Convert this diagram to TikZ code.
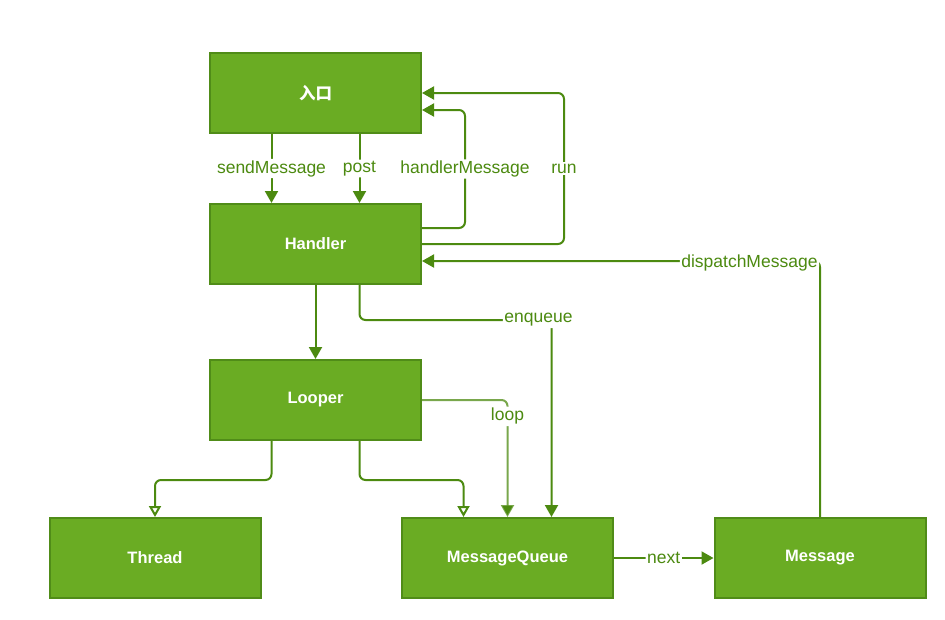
\documentclass[tikz,border=0pt]{standalone}
\usepackage{fontspec}
\setmainfont{Liberation Sans}
\newfontfamily\cjk{Noto Sans CJK SC}
\usetikzlibrary{arrows.meta}
\definecolor{boxfill}{RGB}{106,172,35}
\definecolor{boxline}{RGB}{80,140,24}
\definecolor{wire}{RGB}{76,138,16}

\begin{document}
\begin{tikzpicture}[x=1pt,y=-1pt,
    box/.style={draw=boxline,fill=boxfill,line width=2pt,minimum width=211pt,minimum height=80pt,
        text=white,font=\fontsize{16.5}{20}\selectfont\bfseries},
    flow/.style={draw=wire,line width=2pt,rounded corners=6pt,-{Triangle[length=12pt,width=13pt]}},
    hollow/.style={draw=wire,line width=2pt,rounded corners=6pt,-{Triangle[open,length=11pt,width=12pt,fill=white]}},
    lbl/.style={fill=white,text=wire,inner sep=1.5pt,font=\fontsize{17.5}{20}\selectfont}]
    \useasboundingbox (0,0) rectangle (945,619);
    \node[box] (entry) at (315.5,93) {{\cjk 入口}};
    \node[box] (handler) at (315.5,244) {Handler};
    \node[box] (looper) at (315.5,400) {Looper};
    \node[box] (thread) at (155,558) {Thread};
    \node[box] (queue) at (507.5,558) {MessageQueue};
    \node[box] (message) at (820,558) {Message};

    \draw[flow] ([xshift=-44pt]entry.south) -- node[lbl]{sendMessage} ([xshift=-44pt]handler.north);
    \draw[flow] ([xshift=44pt]entry.south) -- node[lbl]{post} ([xshift=44pt]handler.north);
    \draw[flow] ([yshift=16pt]handler.east) -- ++(43,0) |- node[pos=0.25,lbl]{handlerMessage} ([yshift=-17pt]entry.east);
    \draw[flow] (handler.east) -- ++(142,0) |- node[pos=0.25,lbl]{run} (entry.east);
    \draw[flow] (message.north) |- node[pos=0.5,lbl,anchor=east,yshift=-2pt]{dispatchMessage} ([yshift=-17pt]handler.east);
    \draw[flow] (handler) -- (looper);
    \draw[flow] ([xshift=44pt]handler.south) -- ++(0,35) -| node[pos=0.5,lbl,xshift=-13pt]{enqueue} ([xshift=44pt]queue.north);
    \draw[flow,draw opacity=0.75] (looper.east) -| node[pos=0.57,lbl]{loop} (queue.north);
    \draw[hollow] ([xshift=-44pt]looper.south) -- ++(0,39) -| (thread.north);
    \draw[hollow] ([xshift=44pt]looper.south) -- ++(0,39) -| ([xshift=-44pt]queue.north);
    \draw[flow] (queue) -- node[lbl]{next} (message);
\end{tikzpicture}
\end{document}
